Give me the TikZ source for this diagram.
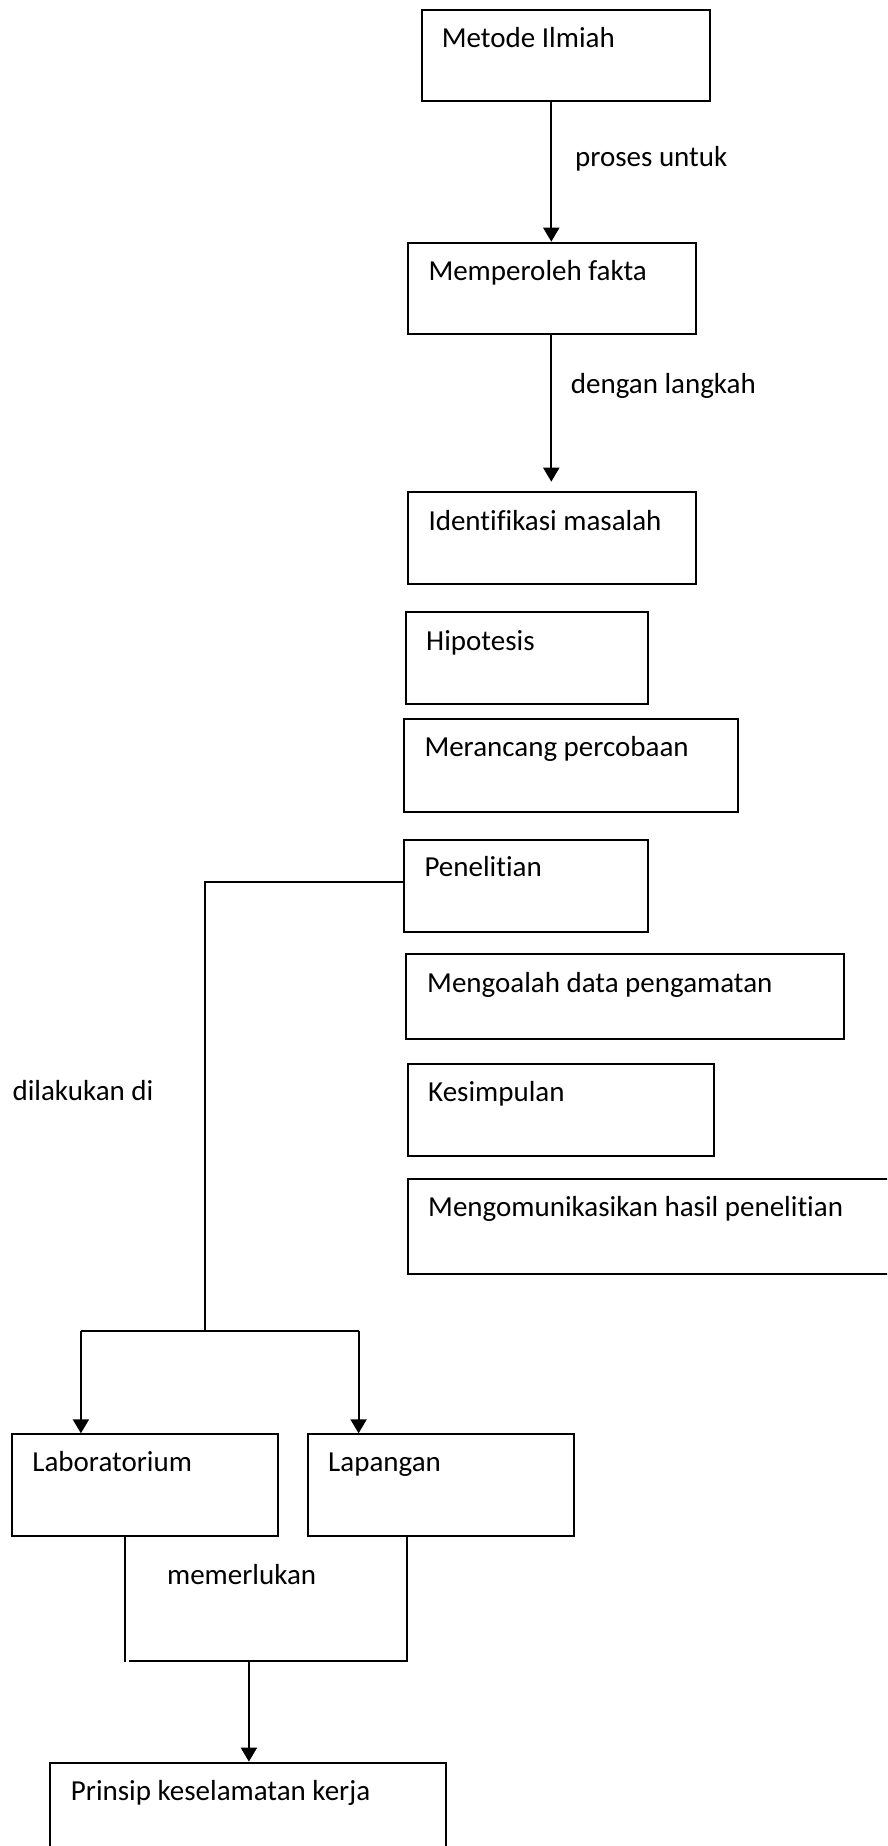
\documentclass[tikz,border=0pt]{standalone}
\usepackage{fontspec}
\setmainfont{Carlito}[Ligatures={NoCommon,NoContextual}]
\usetikzlibrary{arrows.meta,calc}
\begin{document}
\begin{tikzpicture}[x=1pt,y=-1pt,
  box/.style={draw,line width=2pt,inner sep=0pt,anchor=north west},
  txt/.style={anchor=base west,inner sep=0pt,font=\fontsize{29}{34}\selectfont},
  conn/.style={line width=2pt},
  arr/.style={line width=2pt,-{Triangle[length=14pt,width=16pt]}}]
\useasboundingbox (0,0) rectangle (887,1846);
\clip (0,0) rectangle (887,1846);
\fill[white] (0,0) rectangle (887,1846);
% boxes
\node[box,minimum width=288.6pt,minimum height=91.3pt] (metode) at (420.7,9) {};
\node[box,minimum width=288.6pt,minimum height=91pt] (fakta) at (406.7,241.7) {};
\node[box,minimum width=288.6pt,minimum height=92pt] (iden) at (406.7,491.3) {};
\node[box,minimum width=242.6pt,minimum height=91.7pt] (hipo) at (404.7,611.3) {};
\node[box,minimum width=334.6pt,minimum height=92.4pt] (meran) at (402.7,718.3) {};
\node[box,minimum width=244.6pt,minimum height=92pt] (pen) at (402.7,838.7) {};
\node[box,minimum width=437.8pt,minimum height=84.4pt] (olah) at (405,953.3) {};
\node[box,minimum width=305.5pt,minimum height=92pt] (simp) at (407.2,1063) {};
\node[box,minimum width=500pt,minimum height=95pt] (komu) at (407.2,1177.7) {};
\node[box,minimum width=265.8pt,minimum height=102.1pt] (lab) at (11.3,1433.3) {};
\node[box,minimum width=265.9pt,minimum height=102.1pt] (lap) at (307.1,1433.3) {};
\node[box,minimum width=395.4pt,minimum height=120pt] (prin) at (49.2,1761.6) {};
% box texts
\node[txt] (tmetode) at (441.7,47.5) {Metode Ilmiah};
\node[txt] (tfakta) at (428.3,280) {Memperoleh fakta};
\node[txt] (tiden) at (428.3,530.5) {Identifikasi masalah};
\node[txt] (thipo) at (426,650) {Hipotesis};
\node[txt] (tmeran) at (424.3,756.5) {Merancang percobaan};
\node[txt] (tpen) at (424.3,876.5) {Penelitian};
\node[txt] (tolah) at (427,992.3) {Mengoalah data pengamatan};
\node[txt] (tsimp) at (428,1101.7) {Kesimpulan};
\node[txt] (tkomu) at (428,1216.7) {Mengomunikasikan hasil penelitian};
\node[txt] (tlab) at (32.2,1471.6) {Laboratorium};
\node[txt] (tlap) at (328,1471.6) {Lapangan};
\node[txt] (tprin) at (70.7,1800) {Prinsip keselamatan kerja};
% connector labels
\node[txt] (lproses) at (575,166.5) {proses untuk};
\node[txt] (ldengan) at (570.7,393.3) {dengan langkah};
\node[txt] (ldilak) at (12.4,1100) {dilakukan di};
\node[txt] (lmemer) at (166.9,1584) {memerlukan};
% coordinates
\coordinate (a1) at (551.3,0);
\coordinate (t2) at (551.3,481.7);
\coordinate (pj) at (204.8,881.7);
\coordinate (split) at (204.8,1330.8);
\coordinate (sl) at (80.9,1330.8);
\coordinate (sr) at (358.6,1330.8);
\coordinate (jl) at (125,1662);
\coordinate (jl2) at (129,1660.6);
\coordinate (jr) at (406.7,1660.6);
\coordinate (jm) at (248.9,1660.6);
% connectors
\draw[arr] (metode.south -| a1) -- (fakta.north -| a1);
\draw[arr] (fakta.south -| a1) -- (t2);
\draw[conn] (pen.west |- pj) -- (pj) -- (split);
\draw[conn] (sl) -- (sr);
\draw[arr] (sl) -- (lab.north -| sl);
\draw[arr] (sr) -- (lap.north -| sr);
\draw[conn] (lab.south -| jl) -- (jl);
\draw[conn] (jl2) -- (jr) -- (lap.south -| jr);
\draw[arr] (jm) -- (prin.north -| jm);
\end{tikzpicture}
\end{document}
